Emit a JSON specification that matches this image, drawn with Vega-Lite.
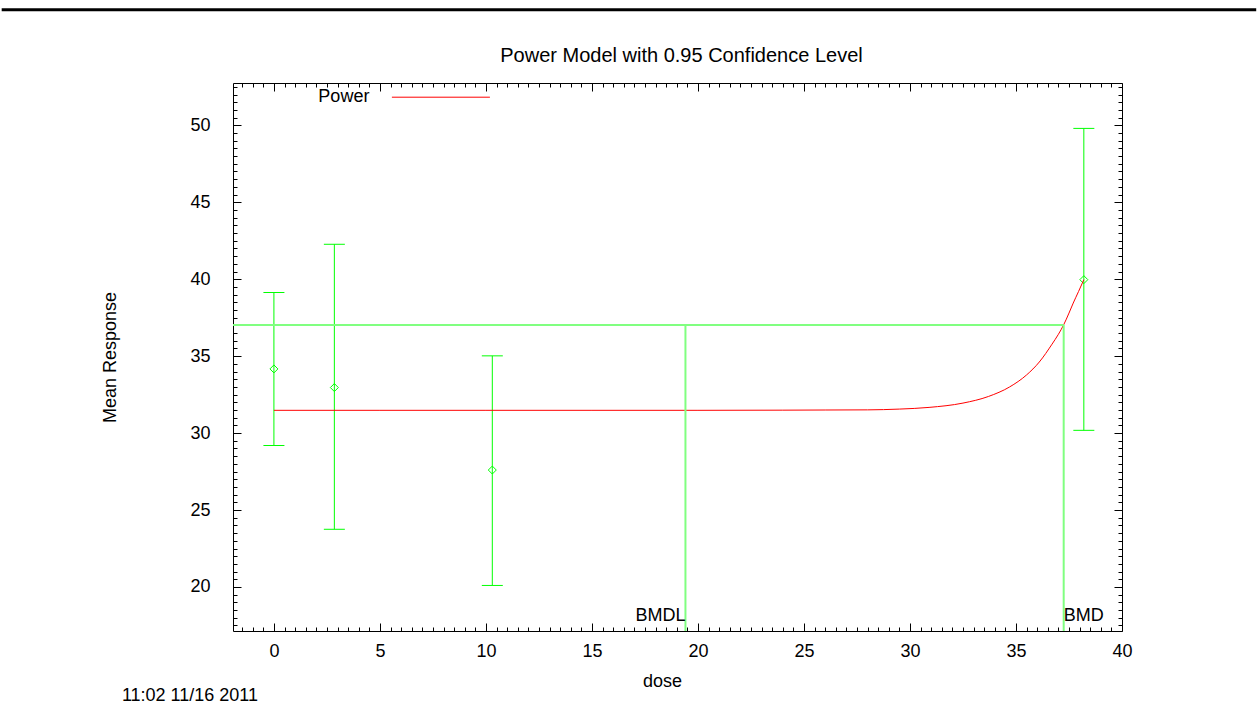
{
  "$schema": "https://vega.github.io/schema/vega-lite/v6.json",
  "autosize": {"type": "none"},
  "width": 889,
  "height": 548,
  "padding": {"left": 233, "top": 83, "right": 137, "bottom": 89},
  "background": "white",
  "title": {
    "text": "Power Model with 0.95 Confidence Level",
    "font": "Liberation Sans",
    "fontSize": 20,
    "fontWeight": "normal",
    "color": "#000000",
    "anchor": "middle",
    "baseline": "alphabetic",
    "offset": -74,
    "dx": 4
  },
  "datasets": {
    "obs": [
      {"dose": 0, "mean": 34.17, "lower": 29.2, "upper": 39.13},
      {"dose": 2.85, "mean": 32.96, "lower": 23.75, "upper": 42.27},
      {"dose": 10.3, "mean": 27.6, "lower": 20.1, "upper": 35.02},
      {"dose": 38.2, "mean": 39.97, "lower": 30.18, "upper": 49.8}
    ],
    "fit": [
      {"model": "Power", "dose": 0, "response": 31.48},
      {"model": "Power", "dose": 5, "response": 31.48},
      {"model": "Power", "dose": 10, "response": 31.48},
      {"model": "Power", "dose": 15, "response": 31.48},
      {"model": "Power", "dose": 20, "response": 31.48},
      {"model": "Power", "dose": 24, "response": 31.49},
      {"model": "Power", "dose": 26, "response": 31.5},
      {"model": "Power", "dose": 28, "response": 31.51},
      {"model": "Power", "dose": 29.5, "response": 31.56},
      {"model": "Power", "dose": 30.9, "response": 31.67},
      {"model": "Power", "dose": 32.5, "response": 31.95},
      {"model": "Power", "dose": 33.7, "response": 32.38},
      {"model": "Power", "dose": 34.7, "response": 33.0},
      {"model": "Power", "dose": 35.5, "response": 33.78},
      {"model": "Power", "dose": 36.1, "response": 34.62},
      {"model": "Power", "dose": 36.7, "response": 35.78},
      {"model": "Power", "dose": 37.0, "response": 36.42},
      {"model": "Power", "dose": 37.25, "response": 37.04},
      {"model": "Power", "dose": 37.5, "response": 37.8},
      {"model": "Power", "dose": 37.7, "response": 38.45},
      {"model": "Power", "dose": 37.95, "response": 39.2},
      {"model": "Power", "dose": 38.2, "response": 39.97}
    ],
    "bmr": [
      {"from": -1.93, "to": 37.25, "response": 37.02}
    ],
    "bmd": [
      {"label": "BMDL", "dose": 19.41, "bmr": 37.02, "base": 17.14, "textY": 17.79},
      {"label": "BMD", "dose": 37.25, "bmr": 37.02, "base": 17.14, "textY": 17.79}
    ]
  },
  "layer": [
    {
      "data": {"name": "obs"},
      "mark": {"type": "rule", "color": "#00ff00", "strokeWidth": 1},
      "encoding": {
        "x": {
          "field": "dose", "type": "quantitative",
          "scale": {"domain": [-1.93, 40], "nice": false, "zero": false},
          "axis": {
            "orient": "bottom",
            "values": [-1.5,-1,-0.5,0,0.5,1,1.5,2,2.5,3,3.5,4,4.5,5,5.5,6,6.5,7,7.5,8,8.5,9,9.5,10,10.5,11,11.5,12,12.5,13,13.5,14,14.5,15,15.5,16,16.5,17,17.5,18,18.5,19,19.5,20,20.5,21,21.5,22,22.5,23,23.5,24,24.5,25,25.5,26,26.5,27,27.5,28,28.5,29,29.5,30,30.5,31,31.5,32,32.5,33,33.5,34,34.5,35,35.5,36,36.5,37,37.5,38,38.5,39,39.5,40],
            "labelExpr": "datum.value % 5 === 0 ? format(datum.value, 'd') : ''",
            "tickSize": {"expr": "datum.value % 5 === 0 ? -8 : -4"},
            "labelPadding": 19,
            "title": "dose",
            "titleX": 429,
            "titleY": 55,
            "titleAlign": "center",
            "titleBaseline": "alphabetic"
          }
        },
        "y": {
          "field": "lower", "type": "quantitative",
          "scale": {"domain": [17.14, 52.75], "nice": false, "zero": false},
          "axis": {
            "orient": "left",
            "values": [17.5,18,18.5,19,19.5,20,20.5,21,21.5,22,22.5,23,23.5,24,24.5,25,25.5,26,26.5,27,27.5,28,28.5,29,29.5,30,30.5,31,31.5,32,32.5,33,33.5,34,34.5,35,35.5,36,36.5,37,37.5,38,38.5,39,39.5,40,40.5,41,41.5,42,42.5,43,43.5,44,44.5,45,45.5,46,46.5,47,47.5,48,48.5,49,49.5,50,50.5,51,51.5,52,52.5],
            "labelExpr": "datum.value % 5 === 0 ? format(datum.value, 'd') : ''",
            "tickSize": {"expr": "datum.value % 5 === 0 ? -8 : -4"},
            "labelPadding": 31,
            "title": "Mean Response",
            "titlePadding": 70
          }
        },
        "y2": {"field": "upper"}
      }
    },
    {
      "data": {"name": "obs"},
      "mark": {"type": "tick", "orient": "horizontal", "color": "#00ff00", "size": 21, "thickness": 1, "opacity": 1},
      "encoding": {
        "x": {"field": "dose", "type": "quantitative", "scale": {"domain": [-1.93, 40], "nice": false, "zero": false}, "axis": null},
        "y": {"field": "upper", "type": "quantitative", "scale": {"domain": [17.14, 52.75], "nice": false, "zero": false}, "axis": null}
      }
    },
    {
      "data": {"name": "obs"},
      "mark": {"type": "tick", "orient": "horizontal", "color": "#00ff00", "size": 21, "thickness": 1, "opacity": 1},
      "encoding": {
        "x": {"field": "dose", "type": "quantitative", "scale": {"domain": [-1.93, 40], "nice": false, "zero": false}, "axis": null},
        "y": {"field": "lower", "type": "quantitative", "scale": {"domain": [17.14, 52.75], "nice": false, "zero": false}, "axis": null}
      }
    },
    {
      "data": {"name": "obs"},
      "mark": {"type": "point", "shape": "diamond", "filled": false, "color": "#00ff00", "size": 64, "strokeWidth": 1, "opacity": 1},
      "encoding": {
        "x": {
          "field": "dose", "type": "quantitative",
          "scale": {"domain": [-1.93, 40], "nice": false, "zero": false},
          "axis": {
            "orient": "top",
            "values": [-1.5,-1,-0.5,0,0.5,1,1.5,2,2.5,3,3.5,4,4.5,5,5.5,6,6.5,7,7.5,8,8.5,9,9.5,10,10.5,11,11.5,12,12.5,13,13.5,14,14.5,15,15.5,16,16.5,17,17.5,18,18.5,19,19.5,20,20.5,21,21.5,22,22.5,23,23.5,24,24.5,25,25.5,26,26.5,27,27.5,28,28.5,29,29.5,30,30.5,31,31.5,32,32.5,33,33.5,34,34.5,35,35.5,36,36.5,37,37.5,38,38.5,39,39.5,40],
            "labels": false,
            "tickSize": {"expr": "datum.value % 5 === 0 ? -8 : -4"},
            "title": null
          }
        },
        "y": {
          "field": "mean", "type": "quantitative",
          "scale": {"domain": [17.14, 52.75], "nice": false, "zero": false},
          "axis": {
            "orient": "right",
            "values": [17.5,18,18.5,19,19.5,20,20.5,21,21.5,22,22.5,23,23.5,24,24.5,25,25.5,26,26.5,27,27.5,28,28.5,29,29.5,30,30.5,31,31.5,32,32.5,33,33.5,34,34.5,35,35.5,36,36.5,37,37.5,38,38.5,39,39.5,40,40.5,41,41.5,42,42.5,43,43.5,44,44.5,45,45.5,46,46.5,47,47.5,48,48.5,49,49.5,50,50.5,51,51.5,52,52.5],
            "labels": false,
            "tickSize": {"expr": "datum.value % 5 === 0 ? -8 : -4"},
            "title": null
          }
        }
      }
    },
    {
      "data": {"name": "fit"},
      "mark": {"type": "line", "interpolate": "monotone", "strokeWidth": 1},
      "encoding": {
        "x": {"field": "dose", "type": "quantitative", "scale": {"domain": [-1.93, 40], "nice": false, "zero": false}, "axis": null},
        "y": {"field": "response", "type": "quantitative", "scale": {"domain": [17.14, 52.75], "nice": false, "zero": false}, "axis": null},
        "color": {
          "field": "model", "type": "nominal",
          "scale": {"domain": ["Power"], "range": ["#ff0000"]},
          "legend": {
            "orient": "none",
            "legendX": 158.4,
            "legendY": -35.3,
            "title": null,
            "padding": 0,
            "symbolType": "stroke",
            "symbolSize": 9604,
            "symbolStrokeWidth": 1,
            "labelAlign": "right",
            "labelOffset": -121,
            "labelFont": "Liberation Sans",
            "labelFontSize": 18,
            "labelColor": "#000000",
            "labelLimit": 400
          }
        }
      }
    },
    {
      "data": {"name": "bmr"},
      "mark": {"type": "rule", "color": "#80ff80", "strokeWidth": 2},
      "encoding": {
        "x": {"field": "from", "type": "quantitative", "scale": {"domain": [-1.93, 40], "nice": false, "zero": false}, "axis": null},
        "x2": {"field": "to"},
        "y": {"field": "response", "type": "quantitative", "scale": {"domain": [17.14, 52.75], "nice": false, "zero": false}, "axis": null}
      }
    },
    {
      "data": {"name": "bmd"},
      "mark": {"type": "rule", "color": "#80ff80", "strokeWidth": 2},
      "encoding": {
        "x": {"field": "dose", "type": "quantitative", "scale": {"domain": [-1.93, 40], "nice": false, "zero": false}, "axis": null},
        "y": {"field": "bmr", "type": "quantitative", "scale": {"domain": [17.14, 52.75], "nice": false, "zero": false}, "axis": null},
        "y2": {"field": "base"}
      }
    },
    {
      "data": {"name": "bmd"},
      "transform": [{"filter": "datum.label === 'BMDL'"}],
      "mark": {"type": "text", "align": "right", "baseline": "alphabetic", "font": "Liberation Sans", "fontSize": 18, "color": "#000000"},
      "encoding": {
        "x": {"field": "dose", "type": "quantitative", "scale": {"domain": [-1.93, 40], "nice": false, "zero": false}, "axis": null},
        "y": {"field": "textY", "type": "quantitative", "scale": {"domain": [17.14, 52.75], "nice": false, "zero": false}, "axis": null},
        "text": {"field": "label"}
      }
    },
    {
      "data": {"name": "bmd"},
      "transform": [{"filter": "datum.label === 'BMD'"}],
      "mark": {"type": "text", "align": "left", "baseline": "alphabetic", "font": "Liberation Sans", "fontSize": 18, "color": "#000000"},
      "encoding": {
        "x": {
          "field": "dose", "type": "quantitative",
          "scale": {"domain": [-1.93, 40], "nice": false, "zero": false},
          "axis": {
            "orient": "bottom",
            "labels": false,
            "ticks": false,
            "domain": false,
            "grid": false,
            "title": "11:02 11/16 2011",
            "titleX": -111.6,
            "titleY": 69.7,
            "titleAlign": "left",
            "titleBaseline": "alphabetic",
            "titleAngle": 0
          }
        },
        "y": {"field": "textY", "type": "quantitative", "scale": {"domain": [17.14, 52.75], "nice": false, "zero": false}, "axis": null},
        "text": {"field": "label"}
      }
    },
    {
      "data": {"values": [{}]},
      "mark": {"type": "rule", "color": "#000000", "strokeWidth": 3, "clip": false},
      "encoding": {
        "x": {"datum": -12.84, "type": "quantitative", "scale": {"domain": [-1.93, 40], "nice": false, "zero": false}, "axis": null},
        "x2": {"datum": 46.33},
        "y": {"datum": 57.51, "type": "quantitative", "scale": {"domain": [17.14, 52.75], "nice": false, "zero": false}, "axis": null}
      }
    }
  ],
  "resolve": {"axis": {"x": "independent", "y": "independent"}},
  "config": {
    "font": "Liberation Sans",
    "view": {"stroke": "#000000", "strokeWidth": 1},
    "axis": {
      "domain": false,
      "grid": false,
      "tickColor": "#000000",
      "tickWidth": 1,
      "labelFont": "Liberation Sans",
      "labelFontSize": 18,
      "labelColor": "#000000",
      "labelOverlap": false,
      "labelFlush": false,
      "titleFont": "Liberation Sans",
      "titleFontSize": 18,
      "titleFontWeight": "normal",
      "titleColor": "#000000"
    }
  }
}
